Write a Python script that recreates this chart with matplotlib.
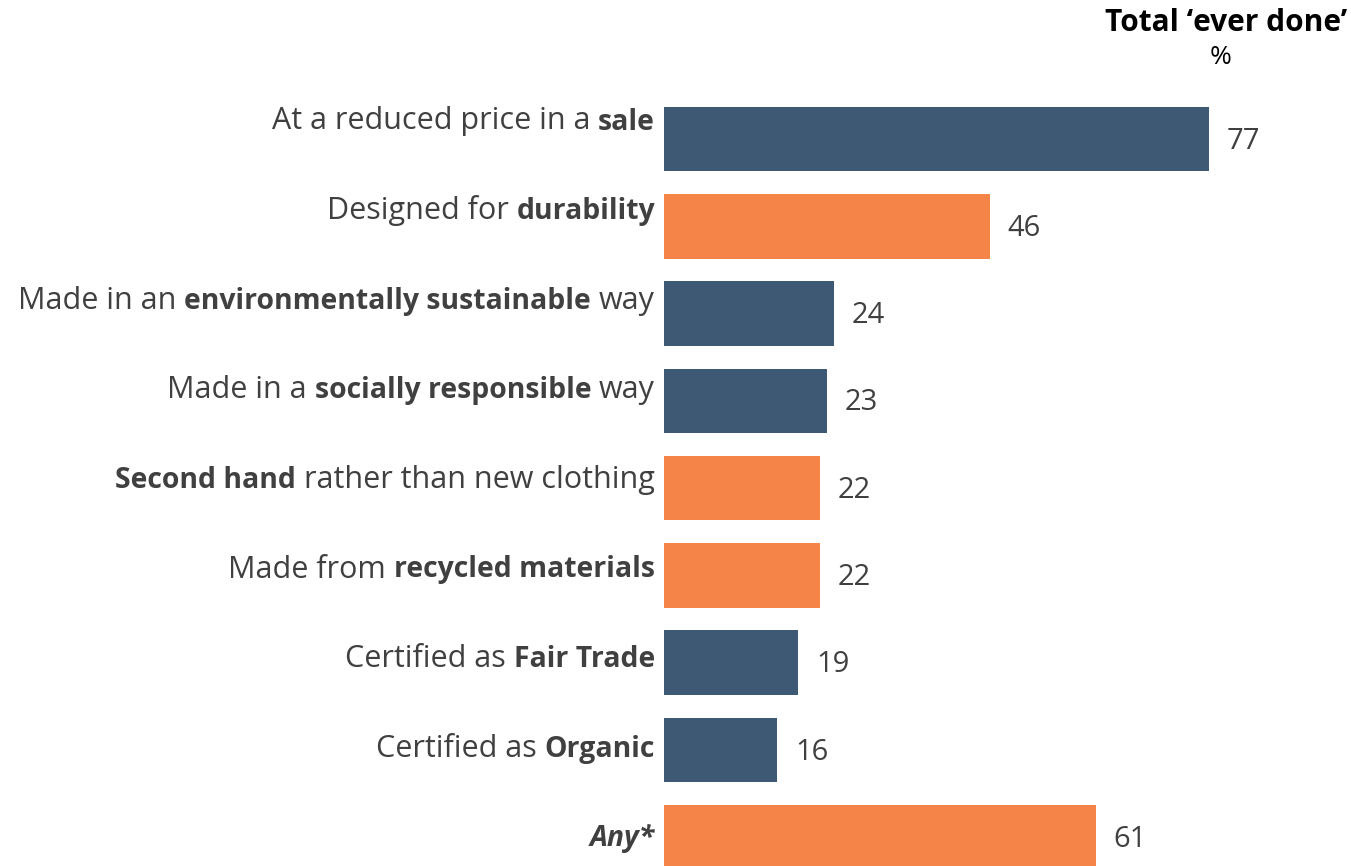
import matplotlib; matplotlib.use('Agg')
import matplotlib.pyplot as plt

# ── Data ──────────────────────────────────────────────────────────────────────
# each label is a list of (text, style) segments; style: 'r' regular, 'b' bold, 'bi' bold italic
labels = [
    [('At a reduced price in a ', 'r'), ('sale', 'b')],
    [('Designed for ', 'r'), ('durability', 'b')],
    [('Made in an ', 'r'), ('environmentally sustainable', 'b'), (' way', 'r')],
    [('Made in a ', 'r'), ('socially responsible', 'b'), (' way', 'r')],
    [('Second hand', 'b'), (' rather than new clothing', 'r')],
    [('Made from ', 'r'), ('recycled materials', 'b')],
    [('Certified as ', 'r'), ('Fair Trade', 'b')],
    [('Certified as ', 'r'), ('Organic', 'b')],
    [('Any*', 'bi')],
]
values = [77, 46, 24, 23, 22, 22, 19, 16, 61]
groups = ['navy', 'orange', 'navy', 'navy', 'orange', 'orange', 'navy', 'navy', 'orange']

COL = {'navy': '#3D5973', 'orange': '#F48447'}
TXT = '#404040'
FONT = 'Open Sans'
FS_REG = 22
FS_BOLD = 20.4

W, H = 1351, 866
fig = plt.figure(figsize=(W / 100, H / 100), dpi=100)
ax = fig.add_axes([664 / W, 1 - 881 / H, 707.8 / W, (881 - 95.4) / H])

ypos = list(range(len(values)))
bars = ax.barh(ypos, values, height=0.74, color=[COL[g] for g in groups])
ax.set_xlim(0, 100)
ax.set_ylim(len(values) - 0.5, -0.5)
ax.axis('off')

for b, v in zip(bars, values):
    ax.annotate(f'{v}', xy=(b.get_width(), b.get_y() + b.get_height() / 2),
                xytext=(13, -1.5), textcoords='offset points', va='center', ha='left',
                fontsize=21, family=FONT, fontweight='normal', color=TXT)

# ── Category labels: mixed weight, right aligned ─────────────────────────────
fig.canvas.draw()
rend = fig.canvas.get_renderer()
def style_kw(s):
    return dict(fontweight='bold' if 'b' in s else 'normal',
                fontstyle='italic' if 'i' in s else 'normal',
                fontsize=FS_BOLD if 'b' in s else FS_REG)

def measure(s, st):
    t = fig.text(0, 0, s, family=FONT, **style_kw(st))
    w = t.get_window_extent(rend).width
    t.remove()
    return w

space_w = measure('a a', 'r') - measure('aa', 'r')

x_right = 655
label_y0, label_step = 129.5, 89.6   # baselines
for i, segs in enumerate(labels):
    y = 1 - (label_y0 + i * label_step) / H
    x = x_right
    for s, st in reversed(segs):
        if s.endswith(' '):
            x -= space_w
        t = fig.text(x / W, y, s.strip(), ha='right', va='baseline',
                     family=FONT, color=TXT, **style_kw(st))
        x = t.get_window_extent(rend).x0
        if s.startswith(' '):
            x -= space_w

# ── Header ────────────────────────────────────────────────────────────────────
fig.text(1347 / W, 1 - 23 / H, 'Total \u2018ever done\u2019', ha='right', va='center',
         fontsize=21.5, family=FONT, fontweight='bold', color='black')
fig.text(1221 / W, 1 - 58 / H, '%', ha='center', va='center',
         fontsize=19, family=FONT, fontweight='normal', color='black')

fig.savefig('out.png', dpi=100)
